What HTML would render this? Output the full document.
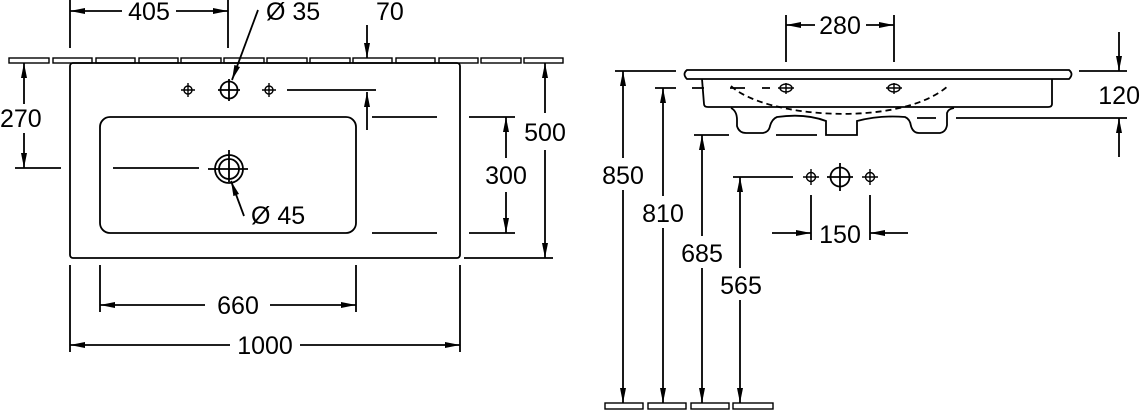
<!DOCTYPE html>
<html><head><meta charset="utf-8"><style>html,body{margin:0;padding:0;background:#fff}svg{display:block}</style></head><body>
<svg width="1140" height="410" viewBox="0 0 1140 410" xmlns="http://www.w3.org/2000/svg" font-family="Liberation Sans, sans-serif" font-size="25" fill="none" stroke="#000" stroke-width="1.8">
<defs>
<marker id="a" markerUnits="userSpaceOnUse" markerWidth="16" markerHeight="8" refX="15" refY="4" orient="auto"><path d="M0,1 L15,4 L0,7 Z" fill="#000" stroke="none"/></marker>
</defs>
<!-- wall tiles -->
<g stroke-width="1.4">
<rect x="9" y="58" width="40" height="5"/><rect x="53" y="58" width="39" height="5"/><rect x="96" y="58" width="39" height="5"/><rect x="139" y="58" width="39" height="5"/><rect x="181" y="58" width="40" height="5"/><rect x="224" y="58" width="40" height="5"/><rect x="267" y="58" width="40" height="5"/><rect x="310" y="58" width="40" height="5"/><rect x="353" y="58" width="39" height="5"/><rect x="396" y="58" width="39" height="5"/><rect x="439" y="58" width="39" height="5"/><rect x="481" y="58" width="40" height="5"/><rect x="524" y="58" width="39" height="5"/>
<rect x="605" y="403" width="38" height="6"/><rect x="648" y="403" width="38" height="6"/><rect x="691" y="403" width="38" height="6"/><rect x="733" y="403" width="40" height="6"/>
</g>
<!-- top view -->
<rect x="70" y="63" width="390" height="195" rx="3"/>
<rect x="100" y="117" width="256" height="116" rx="10"/>
<circle cx="229" cy="169" r="14"/><circle cx="229" cy="169" r="10"/>
<path d="M208,169 H248 M229,150 V182"/>
<circle cx="229" cy="90" r="8.5"/><path d="M218,90 H240 M229,79 V101"/>
<g stroke-width="1.4"><circle cx="188" cy="90" r="4"/><path d="M181,90 H195 M188,83 V97"/><circle cx="269" cy="90" r="4"/><path d="M262,90 H276 M269,83 V97"/></g>
<path d="M287,90 H376 M372,117 H437 M469,117 H515 M372,233 H437 M469,233 H515 M464,258 H553 M15,168 H61 M113,168 H199"/>
<path d="M367,25 V58" marker-end="url(#a)"/>
<path d="M367,130 V92" marker-end="url(#a)"/>
<path d="M70,0 V48 M228,0 V48"/>
<path d="M122,11 H70" marker-end="url(#a)"/><path d="M176,11 H228" marker-end="url(#a)"/>
<path d="M258,10 L232,80" marker-end="url(#a)"/>
<path d="M244,216 L231,181" marker-end="url(#a)"/>
<path d="M24,104 V63" marker-end="url(#a)"/><path d="M24,133 V168" marker-end="url(#a)"/>
<path d="M506,158 V117" marker-end="url(#a)"/><path d="M506,192 V233" marker-end="url(#a)"/>
<path d="M545,113 V63" marker-end="url(#a)"/><path d="M545,150 V258" marker-end="url(#a)"/>
<path d="M100,265 V312 M356,265 V312 M70,265 V352 M460,265 V352"/>
<path d="M205,305 H100" marker-end="url(#a)"/><path d="M270,305 H356" marker-end="url(#a)"/>
<path d="M230,345 H70" marker-end="url(#a)"/><path d="M300,345 H460" marker-end="url(#a)"/>
<g fill="#000" stroke="none">
<text x="149" y="20" text-anchor="middle">405</text>
<text x="266" y="20">Ø 35</text>
<text x="376" y="20">70</text>
<text x="0" y="127">270</text>
<text x="506" y="184" text-anchor="middle">300</text>
<text x="545" y="141" text-anchor="middle">500</text>
<text x="251" y="224">Ø 45</text>
<text x="238" y="314" text-anchor="middle">660</text>
<text x="265" y="354" text-anchor="middle">1000</text>
</g>
<!-- side view -->
<path d="M687,70 H1069 Q1074,74 1069,79 H687 Q682,74 687,70 Z"/>
<path d="M702,79 L704,104 Q704,107 708,107 H1048 Q1052,107 1052,104 V79"/>
<path d="M731,108 Q737,111 737,120 V126 Q739,133 746,133 H763 Q769,132 770,126 Q772,119 777,117 Q805,113 826,121 V135 H857 V121 Q880,115 905,117 Q910,119 911,126 Q913,133 919,133 H940 Q946,132 947,125 V113 Q948,109 954,108"/>
<path d="M731,86 C765,118 900,128 948,86" stroke-dasharray="6,4"/>
<g stroke-width="1.4"><ellipse cx="786" cy="88" rx="6" ry="4"/><path d="M778,88 H794 M786,83 V94"/><ellipse cx="894" cy="88" rx="6" ry="4"/><path d="M886,88 H902 M894,83 V94"/></g>
<path d="M786,15 V62 M894,15 V62"/>
<path d="M815,25 H786" marker-end="url(#a)"/><path d="M866,25 H894" marker-end="url(#a)"/>
<path d="M1079,71 H1127 M956,118 H1127 M917,118 H936 M615,71 H676 M655,88 H676 M692,88 H704 M694,135 H729 M776,135 H817 M733,177 H793"/>
<path d="M730,88 H745 M762,88 H770"/>
<path d="M1119,32 V71" marker-end="url(#a)"/><path d="M1119,157 V118" marker-end="url(#a)"/>
<path d="M623,158 V71" marker-end="url(#a)"/><path d="M623,190 V403" marker-end="url(#a)"/>
<path d="M663,196 V88" marker-end="url(#a)"/><path d="M663,228 V403" marker-end="url(#a)"/>
<path d="M702,236 V135" marker-end="url(#a)"/><path d="M702,268 V403" marker-end="url(#a)"/>
<path d="M740,268 V177" marker-end="url(#a)"/><path d="M740,300 V403" marker-end="url(#a)"/>
<g stroke-width="1.4"><circle cx="811" cy="177" r="4.5"/><path d="M803,177 H819 M811,169 V185"/><circle cx="870" cy="177" r="4.5"/><path d="M862,177 H878 M870,169 V185"/></g>
<circle cx="840" cy="177" r="9.5"/><path d="M827,177 H853 M840,163 V191"/>
<path d="M811,195 V240 M870,195 V240"/>
<path d="M772,233 H811" marker-end="url(#a)"/><path d="M908,233 H870" marker-end="url(#a)"/>
<g fill="#000" stroke="none">
<text x="840" y="34" text-anchor="middle">280</text>
<text x="1140" y="104" text-anchor="end">120</text>
<text x="623" y="184" text-anchor="middle">850</text>
<text x="663" y="222" text-anchor="middle">810</text>
<text x="702" y="262" text-anchor="middle">685</text>
<text x="741" y="294" text-anchor="middle">565</text>
<text x="840" y="243" text-anchor="middle">150</text>
</g>
</svg>
</body></html>
